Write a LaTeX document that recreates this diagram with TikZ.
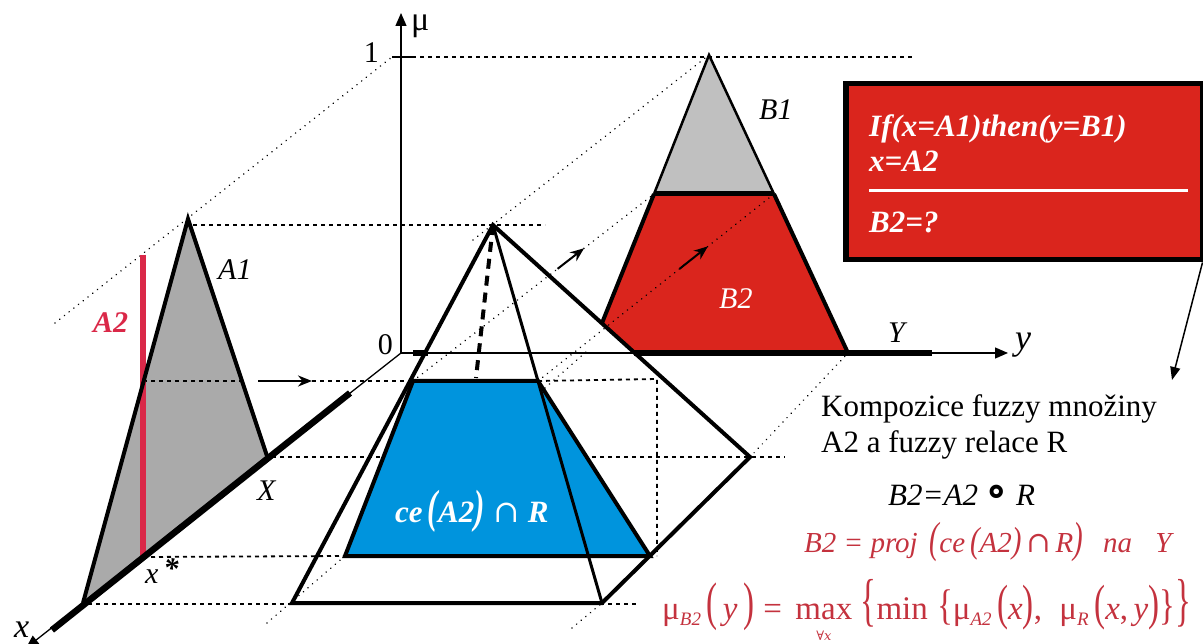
\documentclass[tikz,border=0pt]{standalone}
\usepackage{fontspec}
\setmainfont{Liberation Serif}
\newfontfamily\symfont{DejaVu Serif}
\usetikzlibrary{arrows.meta, calc, positioning}
\definecolor{sedaA}{RGB}{170,170,170}
\definecolor{sedaB}{RGB}{192,192,192}
\definecolor{cervenaB}{RGB}{218,37,29}
\definecolor{modraR}{RGB}{0,148,221}
\definecolor{malinaA}{RGB}{218,40,72}
\definecolor{vzorec}{RGB}{196,50,62}
% vysoke zavorky a dolni index
\newcommand{\vz}[2][1.6]{\scalebox{1}[#1]{#2}}
\newcommand{\dolni}[1]{\raisebox{-6pt}{\fontsize{19}{20}\selectfont\itshape #1}}
\tikzset{
  fz/axis/.style={line width=1.3pt, draw=black},
  fz/supp/.style={line width=6.5pt, draw=black},
  fz/edge/.style={line width=4pt, draw=black},
  fz/thin/.style={line width=2.5pt, draw=black},
  fz/dash/.style={line width=1.8pt, dash pattern=on 4pt off 4pt},
  fz/dot/.style={line width=1.7pt, line cap=round, dash pattern=on 0.01pt off 6pt},
  fz/hid/.style={line width=4pt, dash pattern=on 10pt off 7pt},
  fz/arr/.style={-{Stealth[length=14pt,width=11pt]}, line width=2pt},
  fz/tip/.style={-{Triangle[length=13pt,width=11pt]}},
  fz/lbl/.style={font=\fontsize{30}{34}\selectfont\itshape, inner sep=0pt,
    anchor=base west},
  fz/num/.style={font=\fontsize{30}{34}\selectfont, inner sep=0pt,
    anchor=base east},
  fz/txt/.style={font=\fontsize{31}{36}\selectfont, inner sep=0pt,
    anchor=base west},
  fz/form/.style={font=\fontsize{33}{36}\selectfont, text=vzorec,
    inner sep=0pt, anchor=base west},
  fz/rule/.style={font=\fontsize{31}{36}\selectfont\bfseries\itshape,
    text=white, inner sep=0pt, anchor=base west},
  fz/box/.style={rectangle, draw=black, fill=cervenaB, line width=5.5pt,
    minimum width=357pt, minimum height=176pt, anchor=north west}
}
\begin{document}
\begin{tikzpicture}[x=1pt, y=-1pt]
  \useasboundingbox (0,0) rectangle (1203,644);

  % Osy
  \coordinate (O)     at (401,353);
  \coordinate (muEnd) at (401,13);
  \coordinate (yEnd)  at (1008,353);
  \coordinate (xEnd)  at (26,648);
  \coordinate (t1a)   at (392,57);
  \coordinate (t1b)   at (412,57);
  \coordinate (xs1)   at (350,393);
  \coordinate (xs2)   at (52,630);
  \coordinate (ys1)   at (634,353);
  \coordinate (ys2)   at (932,353);
  \coordinate (yb1)   at (413,353);
  \coordinate (yb2)   at (428,353);

  % A1, A2
  \coordinate (A1a) at (188,219);
  \coordinate (A1l) at (83,603);
  \coordinate (A1r) at (267,456);
  \coordinate (A2a) at (143,255);
  \coordinate (A2b) at (143,557);
  \coordinate (A2k) at (143,381);

  % Relace R (jehlan) a rez ce(A2)
  \coordinate (Pa)   at (493,225);
  \coordinate (Pfl)  at (292,603);
  \coordinate (Pfr)  at (602,603);
  \coordinate (Pr)   at (750,457);
  \coordinate (Ph)   at (476,378);
  \coordinate (BlTL) at (413,381);
  \coordinate (BlTR) at (538,381);
  \coordinate (BlBR) at (650,556);
  \coordinate (BlBL) at (345,556);

  % B1, B2
  \coordinate (B1a)  at (709,55);
  \coordinate (B2tl) at (654,194);
  \coordinate (B2tr) at (774,194);
  \coordinate (B2br) at (848,353);
  \coordinate (B2bl) at (634,353);
  \coordinate (B2k)  at (602,323);

  % pomocne body car
  \coordinate (d1a) at (193,225);  \coordinate (d1b) at (545,225);
  \coordinate (d2a) at (245,381);  \coordinate (d2b) at (258,381);
  \coordinate (d2c) at (312,381);
  \coordinate (d3a) at (272,457);  \coordinate (d3b) at (785,457);
  \coordinate (d4a) at (657,379);  \coordinate (d4b) at (657,556);
  \coordinate (d6a) at (88,604);   \coordinate (d6b) at (637,604);
  \coordinate (d7b) at (915,57);
  \coordinate (s1a) at (55,323);
  \coordinate (s2a) at (473,240);
  \coordinate (s5a) at (545,388);  \coordinate (s5b) at (586,352);
  \coordinate (s7a) at (267,623);
  \coordinate (s8a) at (572,628);

  % --- tenke osy ---
  \draw[fz/axis, fz/tip] (O) -- (muEnd);
  \draw[fz/axis, fz/tip] (O) -- (yEnd);
  \draw[fz/axis, fz/tip] (O) -- (xEnd);
  \draw[fz/axis] (t1a) -- (t1b);
  \draw[fz/dash] (d3a) -- (d3b);

  % --- plochy ---
  \fill[sedaA] (A1a) -- (A1r) -- (A1l) -- cycle;
  \fill[modraR] (BlTL) -- (BlTR) -- (BlBR) -- (BlBL) -- cycle;
  \fill[sedaB] (B1a) -- (B2tr) -- (B2tl) -- cycle;
  \fill[cervenaB] (B2tl) -- (B2tr) -- (B2br) -- (B2bl) -- (B2k) -- cycle;

  % --- carkovane a teckovane cary ---
  \draw[fz/dash] (d1a) -- (d1b);
  \draw[fz/dash] (A2k) -- (d2a);
  \draw[fz/dash] (d2c) -- (BlTL);
  \draw[fz/dash] (BlTR) -- (d4a) -- (d4b);
  \draw[fz/dash] (A2b) -- (BlBL);
  \draw[fz/dash] (d6a) -- (d6b);
  \draw[fz/dash] (t1b) -- (d7b);
  \draw[fz/dot] (s1a) -- (t1a);
  \draw[fz/dot] (s2a) -- (B1a);
  \draw[fz/dot] (BlTL) -- (B2tl);
  \draw[fz/dot] (BlTR) -- (B2tr);
  \draw[fz/dot] (s5a) -- (s5b);
  \draw[fz/dot] (Pr) -- (B2br);
  \draw[fz/dot] (s7a) -- (BlBL);
  \draw[fz/dot] (s8a) -- (Pfr);

  % --- sipky projekce ---
  \draw[fz/arr] (d2b) -- (d2c);
  \draw[fz/arr] ($(BlTL)!0.60!(B2tl)$) -- ($(BlTL)!0.71!(B2tl)$);
  \draw[fz/arr] ($(BlTR)!0.60!(B2tr)$) -- ($(BlTR)!0.72!(B2tr)$);

  % --- A2 ---
  \draw[line width=6pt, draw=malinaA] (A2a) -- (A2b);

  % --- hrany ---
  \draw[fz/edge] (A1l) -- (A1a) -- (A1r);
  \draw[fz/hid] (Pa) -- (Ph);
  \draw[fz/edge] (BlTL) -- (BlTR) -- (BlBR) -- (BlBL) -- cycle;
  \draw[fz/thin] (B2tl) -- (B1a) -- (B2tr);
  \draw[fz/edge, line width=5pt] (B2tl) -- (B2tr);
  \draw[fz/edge] (B2tl) -- (B2k);
  \draw[fz/edge] (B2tr) -- (B2br);
  \draw[fz/edge] (Pfl) -- (Pa) -- (Pr) -- (Pfr) -- cycle;
  \draw[line width=3pt] (Pa) -- (Pfr);

  % --- nosice X, Y ---
  \draw[fz/supp] (xs1) -- (xs2);
  \draw[fz/supp] (ys1) -- (ys2);
  \draw[fz/supp] (yb1) -- (yb2);

  % --- popisky ---
  \node[fz/lbl, font=\fontsize{34}{38}\selectfont] (muL) at (411,31) {μ};
  \node[fz/num] (oneL)  at (379,63)  {1};
  \node[fz/num] (zeroL) at (393,355) {0};
  \node[fz/lbl] (A1L) at (218,280) {A1};
  \node[fz/lbl, text=malinaA, font=\fontsize{30}{34}\selectfont\bfseries\itshape]
        (A2L) at (93,333) {A2};
  \node[fz/lbl] (XL)  at (257,500) {X};
  \node[fz/lbl] (xsL) at (145,583) {x\,\raisebox{5pt}{\bfseries *}};
  \node[fz/lbl, font=\fontsize{34}{38}\selectfont\itshape] (xL) at (14,637) {x};
  \node[fz/lbl] (B1L) at (759,120) {B1};
  \node[fz/lbl, text=white] (B2L) at (719,309) {B2};
  \node[fz/lbl] (YL)  at (888,343) {Y};
  \node[fz/lbl, font=\fontsize{36}{40}\selectfont\itshape] (yL) at (1015,350) {y};
  \node[fz/lbl, text=white, font=\fontsize{31}{34}\selectfont\bfseries\itshape]
        (ceL) at (395,522)
        {ce\,\vz[1.5]{(}A2\vz[1.5]{)}\;{\symfont\mdseries\upshape ∩}\;R};

  % --- pravidlo ---
  \node[fz/box] (rule) at (843,81) {};
  \node[fz/rule] (r1) at (869,137) {If(x=A1)then(y=B1)};
  \node[fz/rule] (r2) at (869,172) {x=A2};
  \coordinate (c1) at (869,191);
  \coordinate (c2) at (1188,191);
  \draw[white, line width=3pt] (c1) -- (c2);
  \node[fz/rule] (r3) at (869,233) {B2=?};
  \coordinate (kArr) at (1172,380);
  \draw[line width=1.5pt, -{Triangle[length=13pt,width=10pt]}]
        ([xshift=-3pt]rule.south east) -- (kArr);

  % --- kompozice ---
  \node[fz/txt] (k1) at (821,417) {Kompozice fuzzy množiny};
  \node[fz/txt] (k2) at (821,453) {A2 a fuzzy relace R};
  \node[fz/txt, font=\fontsize{31}{36}\selectfont\itshape] (k3) at (888,505)
        {B2=A2 {\symfont\bfseries\upshape\scalebox{1.4}{∘}} R};
  \node[fz/txt, text=vzorec, font=\fontsize{29}{32}\selectfont\itshape] (k4)
        at (804,552)
        {B2 = proj\, \vz[1.5]{(}ce\,\vz[1.25]{(}A2\vz[1.25]{)}\,{\symfont\upshape ∩}\,R\vz[1.5]{)}\;\, na\;\; Y};

  % --- vzorec pro mu_B2 ---
  \node[fz/form] (k5a) at (662,619)
        {μ\dolni{B2}\,\vz[1.6]{(}\,\textit{y}\,\vz[1.6]{)}\;=\;};
  \node[fz/form, right=4pt of k5a.base east, anchor=base west] (kMax) {max};
  \node[fz/form, anchor=base, font=\fontsize{13}{14}\selectfont\symfont]
        (kAll) at ([yshift=-21pt]kMax.base) {∀\textit{x}};
  \node[fz/form, right=8pt of kMax.base east, anchor=base west] (k5b)
        {\vz[1.75]{\{}min\;\vz[1.3]{\{}μ\dolni{A2}\,\vz[1.5]{(}\textit{x}\vz[1.5]{)},\;
         μ\dolni{R}\,\vz[1.5]{(}\textit{x},\,\textit{y}\vz[1.5]{)}\vz[1.3]{\}}\vz[1.75]{\}}};
\end{tikzpicture}
\end{document}
